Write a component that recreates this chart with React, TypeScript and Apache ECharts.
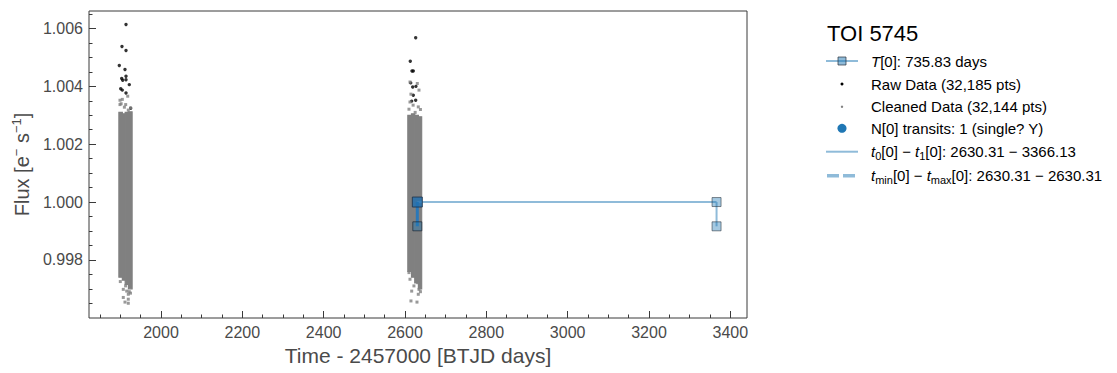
import React, { useEffect, useRef } from 'react';
import * as echarts from 'echarts';

// ---- axis ticks ----
const xMajorTicks = [2000, 2200, 2400, 2600, 2800, 3000, 3200, 3400];
const xMinorTicks = [1850, 1900, 1950, 2050, 2100, 2150, 2250, 2300, 2350, 2450, 2500, 2550, 2650, 2700, 2750, 2850, 2900, 2950, 3050, 3100, 3150, 3250, 3300, 3350];
const yMajorTicks = [0.998, 1.0, 1.002, 1.004, 1.006];
const yMinorTicks = [0.9965, 0.997, 0.9975, 0.9985, 0.999, 0.9995, 1.0005, 1.001, 1.0015, 1.0025, 1.003, 1.0035, 1.0045, 1.005, 1.0055, 1.0065];

// ---- cleaned data: dense band (time bins with flux envelope) ----
const cleanBinStart = [1896.5, 1905, 1912, 1920, 2607, 2616, 2624, 2633];
const cleanBinEnd = [1905, 1912, 1920, 1929, 2616, 2624, 2633, 2641];
const cleanBinLow = [0.9974, 0.9973, 0.99715, 0.997, 0.9976, 0.9974, 0.9972, 0.997];
const cleanBinHigh = [1.0031, 1.00305, 1.0031, 1.00312, 1.003, 1.00305, 1.003, 1.00295];

// ---- cleaned data: sparse points at the band edges ----
const cleanEdgeTime = [
  1899.2, 1904.9, 1918.2, 1899.2, 1913.2, 1919.6, 1902, 1910, 1925,
  1907.3, 1915.7, 1919.6, 1907.3, 1919.6, 1911.5, 1919.6, 1922, 1925, 1913, 1900,
  2612.3, 2630.3, 2614.7, 2634.4, 2612.3, 2632.7, 2609.8, 2625, 2620, 2638,
  2609.8, 2612.3, 2631.2, 2616.5, 2632.7, 2614.7, 2629.5, 2634.4, 2638, 2622,
];
const cleanEdgeFlux = [
  1.00352, 1.00355, 1.00366, 1.00337, 1.00337, 1.00318, 1.0034, 1.00328, 1.00325,
  0.99698, 0.99692, 0.99681, 0.9967, 0.99664, 0.99654, 0.9965, 0.9969, 0.99685, 0.9971, 0.99725,
  1.00415, 1.0041, 1.00373, 1.00387, 1.00346, 1.00329, 1.00321, 1.0031, 1.00335, 1.0032,
  0.99756, 0.99733, 0.99721, 0.99692, 0.99681, 0.99658, 0.99654, 0.99698, 0.9969, 0.9971,
];

// ---- raw data outliers (visible above the cleaned band) ----
const rawTime = [
  1914, 1904.1, 1914, 1897.5, 1911.5, 1903.4, 1905.9, 1914, 1914, 1901, 1904.9, 1914, 1922.1, 1925.5,
  2626.3, 2613, 2617.2, 2620.4, 2614, 2619, 2627, 2620.4, 2616.5, 2626.3, 2621.4,
];
const rawFlux = [
  1.00614, 1.00538, 1.00524, 1.00472, 1.00458, 1.00427, 1.00421, 1.00435, 1.00423, 1.00392, 1.00387, 1.00377, 1.00406, 1.00324,
  1.00568, 1.00487, 1.00453, 1.00453, 1.00412, 1.00398, 1.004, 1.00369, 1.00349, 1.00352, 1.00295,
];

// ---- transit / period markers ----
const transitTimes = [2630.31, 3366.13];
const markerLevels = [1.0, 0.99916];

const FONT = 'Liberation Sans, Arial, sans-serif';
const AXIS_TEXT = '#4a4a4a';
const LIGHT_BLUE = '#8fbbd9';

export default function App() {
  const ref = useRef<HTMLDivElement>(null);

  useEffect(() => {
    document.body.style.margin = '0';
    if (!ref.current) return;
    const chart = echarts.init(ref.current, undefined, { renderer: 'svg' });

    const bandData = cleanBinStart.map((s, i) => [s, cleanBinEnd[i], cleanBinLow[i], cleanBinHigh[i]]);
    const edgeData = cleanEdgeTime.map((t, i) => [t, cleanEdgeFlux[i]]);
    const rawData = rawTime.map((t, i) => [t, rawFlux[i]]);

    const xRange = { min: 1823, max: 3441 };
    const yRange = { min: 0.99599, max: 1.006606 };

    const legendX = 871;
    const rows = [61, 84, 106.7, 128.3, 151.7, 175.7];

    const textStyle = (text: string, y: number, rich?: any) => ({
      type: 'text',
      style: {
        text,
        x: legendX,
        y,
        fill: '#000',
        font: `15px ${FONT}`,
        verticalAlign: 'middle',
        align: 'left',
        rich,
      },
    });

    const rich = {
      i: { fontStyle: 'italic', fontSize: 15, fontFamily: FONT, fill: '#000', lineHeight: 20, verticalAlign: 'middle' },
      n: { fontSize: 15, fontFamily: FONT, fill: '#000', lineHeight: 20, verticalAlign: 'middle' },
      sub: { fontSize: 11, fontFamily: FONT, fill: '#000', lineHeight: 20, verticalAlign: 'bottom' },
    };

    chart.setOption({
      animation: false,
      grid: {
        left: 89,
        top: 11,
        right: 370,
        bottom: 55,
        show: true,
        borderColor: '#3a3a3a',
        borderWidth: 1,
        containLabel: false,
      },
      xAxis: [
        {
          type: 'value',
          ...xRange,
          position: 'bottom',
          splitLine: { show: false },
          axisLine: { show: false },
          axisTick: { show: true, inside: true, length: 7, customValues: xMajorTicks, lineStyle: { color: '#3a3a3a', width: 1 } },
          axisLabel: { show: true, customValues: xMajorTicks, color: AXIS_TEXT, fontSize: 16, fontFamily: FONT, margin: 6, formatter: (v: number) => String(v) },
          name: 'Time - 2457000 [BTJD days]',
          nameLocation: 'middle',
          nameGap: 20,
          nameTextStyle: { color: AXIS_TEXT, fontSize: 21, fontFamily: FONT },
        },
        {
          type: 'value',
          ...xRange,
          position: 'bottom',
          splitLine: { show: false },
          axisLine: { show: false },
          axisTick: { show: true, inside: true, length: 3.5, customValues: xMinorTicks, lineStyle: { color: '#3a3a3a', width: 1 } },
          axisLabel: { show: false },
        },
      ],
      yAxis: [
        {
          type: 'value',
          ...yRange,
          position: 'left',
          splitLine: { show: false },
          axisLine: { show: false },
          axisTick: { show: true, inside: true, length: 7, customValues: yMajorTicks, lineStyle: { color: '#3a3a3a', width: 1 } },
          axisLabel: { show: true, customValues: yMajorTicks, color: AXIS_TEXT, fontSize: 16, fontFamily: FONT, margin: 6, formatter: (v: number) => v.toFixed(3) },
          name: '{a|Flux [e}{s|−}{a| s}{s|−1}{a|]}',
          nameLocation: 'middle',
          nameRotate: 90,
          nameGap: 53,
          nameTextStyle: {
            rich: {
              a: { color: AXIS_TEXT, fontSize: 20, fontFamily: FONT, lineHeight: 24, verticalAlign: 'middle' },
              s: { color: AXIS_TEXT, fontSize: 13, fontFamily: FONT, lineHeight: 24, verticalAlign: 'top' },
            },
          },
        },
        {
          type: 'value',
          ...yRange,
          position: 'left',
          splitLine: { show: false },
          axisLine: { show: false },
          axisTick: { show: true, inside: true, length: 3.5, customValues: yMinorTicks, lineStyle: { color: '#3a3a3a', width: 1 } },
          axisLabel: { show: false },
        },
      ],
      series: [
        {
          type: 'scatter',
          name: 'Raw Data',
          xAxisIndex: 0,
          yAxisIndex: 0,
          data: rawData,
          symbol: 'circle',
          symbolSize: 3.4,
          itemStyle: { color: '#000' },
          z: 2,
        },
        {
          type: 'custom',
          name: 'Cleaned band',
          xAxisIndex: 0,
          yAxisIndex: 0,
          data: bandData,
          encode: { x: [0, 1], y: [2, 3] },
          renderItem: (params: any, api: any) => {
            const p0 = api.coord([api.value(0), api.value(3)]);
            const p1 = api.coord([api.value(1), api.value(2)]);
            return {
              type: 'rect',
              shape: { x: p0[0], y: p0[1], width: p1[0] - p0[0], height: p1[1] - p0[1] },
              style: { fill: '#808080', stroke: '#808080', lineWidth: 1.2 },
            };
          },
          z: 3,
        },
        {
          type: 'scatter',
          name: 'Cleaned Data',
          xAxisIndex: 0,
          yAxisIndex: 0,
          data: edgeData,
          symbol: 'rect',
          symbolSize: 3,
          itemStyle: { color: '#808080' },
          z: 3,
        },
        {
          type: 'line',
          name: 'period',
          xAxisIndex: 0,
          yAxisIndex: 0,
          data: [[transitTimes[0], markerLevels[0]], [transitTimes[1], markerLevels[0]]],
          showSymbol: false,
          lineStyle: { color: LIGHT_BLUE, width: 2 },
          z: 4,
        },
        {
          type: 'line',
          name: 'right vertical',
          xAxisIndex: 0,
          yAxisIndex: 0,
          data: [[transitTimes[1], markerLevels[0]], [transitTimes[1], markerLevels[1]]],
          showSymbol: false,
          lineStyle: { color: LIGHT_BLUE, width: 2 },
          z: 4,
        },
        {
          type: 'line',
          name: 'left vertical',
          xAxisIndex: 0,
          yAxisIndex: 0,
          data: [[transitTimes[0], markerLevels[0]], [transitTimes[0], markerLevels[1]]],
          showSymbol: false,
          lineStyle: { color: '#2a78b8', width: 3 },
          z: 4,
        },
        {
          type: 'scatter',
          name: 'T markers right',
          xAxisIndex: 0,
          yAxisIndex: 0,
          data: [[transitTimes[1], markerLevels[0]], [transitTimes[1], markerLevels[1]]],
          symbol: 'rect',
          symbolSize: 9,
          itemStyle: { color: 'rgba(31,119,180,0.5)', borderColor: 'rgba(40,50,60,0.7)', borderWidth: 1 },
          z: 5,
        },
        {
          type: 'scatter',
          name: 'T markers left low',
          xAxisIndex: 0,
          yAxisIndex: 0,
          data: [[transitTimes[0], markerLevels[1]]],
          symbol: 'rect',
          symbolSize: 9,
          itemStyle: { color: 'rgba(31,119,180,0.5)', borderColor: 'rgba(20,30,45,0.8)', borderWidth: 1 },
          z: 5,
        },
        {
          type: 'scatter',
          name: 'transit',
          xAxisIndex: 0,
          yAxisIndex: 0,
          data: [[transitTimes[0], markerLevels[0]]],
          symbol: 'rect',
          symbolSize: 10,
          itemStyle: { color: '#1f6fb0', borderColor: '#1a3048', borderWidth: 1 },
          z: 6,
        },
      ],
      graphic: [
        {
          type: 'text',
          style: { text: 'TOI 5745', x: 827, y: 33, fill: '#000', font: `22px ${FONT}`, verticalAlign: 'middle', align: 'left' },
        },
        // row 1: period
        { type: 'line', shape: { x1: 826, y1: rows[0], x2: 858, y2: rows[0] }, style: { stroke: LIGHT_BLUE, lineWidth: 2 } },
        { type: 'rect', shape: { x: 838, y: rows[0] - 4, width: 8, height: 8 }, style: { fill: 'rgba(31,119,180,0.5)', stroke: 'rgba(40,50,60,0.7)', lineWidth: 1 } },
        textStyle('{i|T}{n|[0]: 735.83 days}', rows[0], rich),
        // row 2: raw
        { type: 'circle', shape: { cx: 842, cy: rows[1], r: 1.5 }, style: { fill: '#000' } },
        textStyle('Raw Data (32,185 pts)', rows[1]),
        // row 3: cleaned
        { type: 'circle', shape: { cx: 842, cy: rows[2], r: 1.2 }, style: { fill: '#808080' } },
        textStyle('Cleaned Data (32,144 pts)', rows[2]),
        // row 4: transits
        { type: 'circle', shape: { cx: 842, cy: rows[3], r: 4.5 }, style: { fill: '#1f77b4' } },
        textStyle('N[0] transits: 1 (single? Y)', rows[3]),
        // row 5: t0 - t1
        { type: 'line', shape: { x1: 826, y1: rows[4], x2: 858, y2: rows[4] }, style: { stroke: LIGHT_BLUE, lineWidth: 2 } },
        textStyle('{i|t}{sub|0}{n|[0] − }{i|t}{sub|1}{n|[0]: 2630.31 − 3366.13}', rows[4], rich),
        // row 6: tmin - tmax
        { type: 'line', shape: { x1: 827, y1: rows[5], x2: 858, y2: rows[5] }, style: { stroke: LIGHT_BLUE, lineWidth: 3.5, lineDash: [12, 4] } },
        textStyle('{i|t}{sub|min}{n|[0] − }{i|t}{sub|max}{n|[0]: 2630.31 − 2630.31}', rows[5], rich),
      ],
    });

    return () => chart.dispose();
  }, []);

  return <div ref={ref} style={{ width: 1117, height: 373 }} />;
}
